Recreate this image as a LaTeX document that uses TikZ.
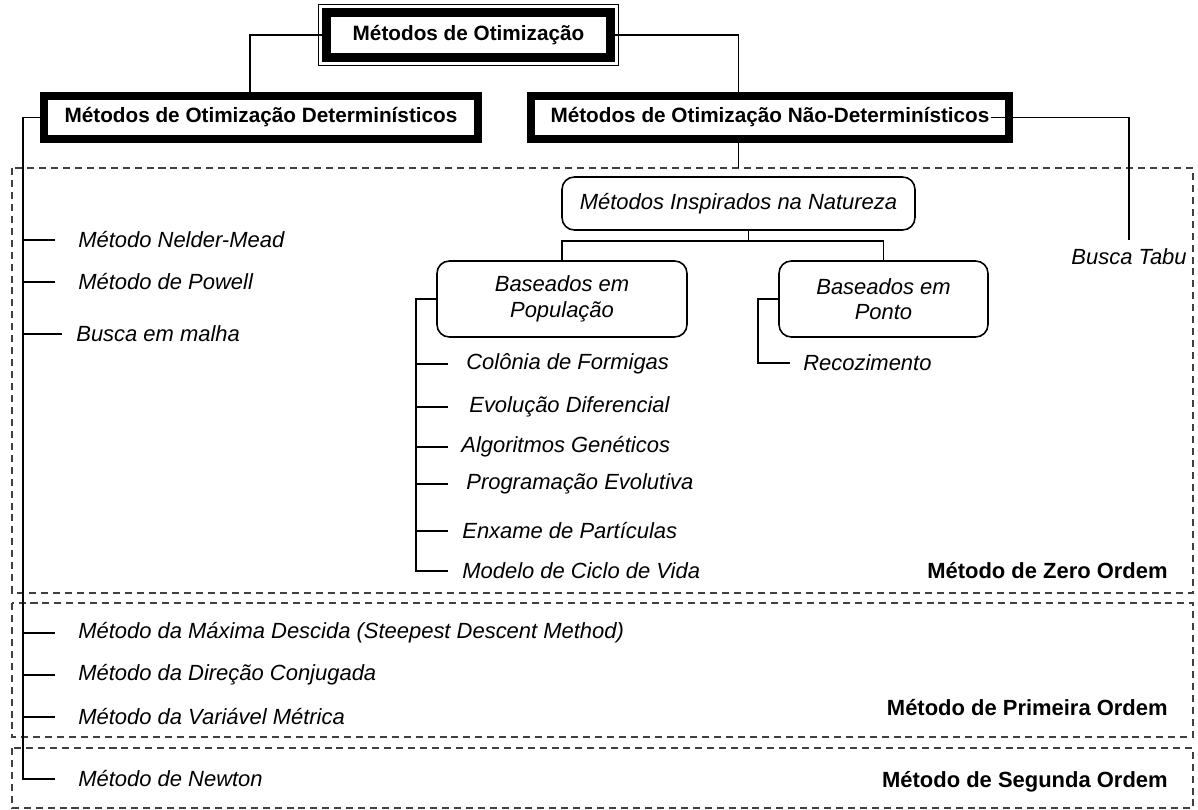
\documentclass[tikz,border=0pt]{standalone}
\usepackage{fontspec}
\setmainfont{Liberation Sans}
\newcommand\figfont{\fontsize{12.5}{14.5}\selectfont}
\newcommand\headfont{\fontsize{11.8}{14}\selectfont\bfseries}
\tikzset{
  headbox/.style={draw, line width=4.5pt, font=\headfont, inner sep=0pt},
  natbox/.style={draw, line width=0.9pt, rounded corners=7pt, font=\figfont\itshape, align=center, inner sep=0pt},
  method/.style={anchor=west, font=\figfont\itshape, inner sep=0pt},
  ordem/.style={anchor=east, font=\figfont\bfseries, inner sep=0pt},
  zone/.style={draw=black!75, line width=1.1pt, dash pattern=on 4pt off 2.8pt},
  link/.style={line width=0.85pt}
}
\begin{document}
\begin{tikzpicture}[x=0.02cm, y=-0.02cm]
  \useasboundingbox (0,0) rectangle (1198,810);
  % order zones
  \draw[zone] (12,168) coordinate (z0) rectangle (1193,593);
  \draw[zone] (12,603) rectangle (1193,737);
  \draw[zone] (12,748) rectangle (1193,808);
  \node[ordem] (zero) at (1168,571) {Método de Zero Ordem};
  \node[ordem] (first) at (1168,708) {Método de Primeira Ordem};
  \node[ordem] (second) at (1168,782) {Método de Segunda Ordem};
  % heads
  \node[headbox, line width=5pt, minimum width=5.68cm, minimum height=0.9cm] (top) at (468.5,35) {Métodos de Otimização};
  \draw[line width=0.6pt] ([shift={(-4,-4)}]top.north west) rectangle ([shift={(4,4)}]top.south east);
  \node[headbox, minimum width=8.68cm, minimum height=0.86cm] (det) at (261,117.5) {Métodos de Otimização Determinísticos};
  \node[headbox, minimum width=9.56cm, minimum height=0.86cm] (ndet) at (770,117.5) {Métodos de Otimização Não-Determinísticos};
  % nature inspired
  \node[natbox, minimum width=7.06cm, minimum height=1.06cm] (nat) at (738.5,203.5) {Métodos Inspirados na Natureza};
  \node[natbox, minimum width=5cm, minimum height=1.52cm] (pop) at (562,299) {Baseados em\\População};
  \node[natbox, minimum width=4.18cm, minimum height=1.52cm] (pto) at (883.5,299) {Baseados em\\Ponto};
  \node[method, anchor=east] (tabu) at (1187,257) {Busca Tabu};
  \draw[link] (top.west) -| ([xshift=-0.22cm]det.north);
  \draw[link] (top.east) -| (nat.north |- ndet.north);
  \draw[link] (nat.north |- ndet.south) -- (nat.north |- z0);
  \draw[link] ([xshift=-0.44cm]ndet.east) -| ([yshift=0.18cm]tabu.north);
  \draw[link] ([xshift=0.2cm]nat.south) -- ++(0,10) coordinate (nj);
  \draw[link] (pop.north) |- (nj) -| (pto.north);
  % deterministic methods
  \coordinate (dspine) at (23,0);
  \node[method] (nm) at (78,240) {Método Nelder-Mead};
  \node[method] (pw) at (78,282) {Método de Powell};
  \node[method] (bm) at (76,334) {Busca em malha};
  \node[method] (md) at (78,633) {Método da Máxima Descida (Steepest Descent Method)};
  \node[method] (dc) at (78,675) {Método da Direção Conjugada};
  \node[method] (vm) at (78,717) {Método da Variável Métrica};
  \node[method] (nt) at (78,779) {Método de Newton};
  \draw[link] (det.west) -| (dspine |- nt.west) -- ([xshift=-0.46cm]nt.west);
  \foreach \m in {nm,pw,md,dc,vm}
    \draw[link] (dspine |- \m.west) -- ([xshift=-0.46cm]\m.west);
  \draw[link] (dspine |- bm.west) -- ([xshift=-0.28cm]bm.west);
  % population based
  \coordinate (pspine) at (416,0);
  \node[method] (cf) at (466,364) {Colônia de Formigas};
  \node[method] (ed) at (469,407) {Evolução Diferencial};
  \node[method] (ag) at (461,447) {Algoritmos Genéticos};
  \node[method] (pe) at (466,484) {Programação Evolutiva};
  \node[method] (ep) at (462,531) {Enxame de Partículas};
  \node[method] (mv) at (462,571) {Modelo de Ciclo de Vida};
  \draw[link] (pop.west) -| (pspine |- mv.west) -- ++(32,0);
  \foreach \m in {cf,ed,ag,pe,ep}
    \draw[link] (pspine |- \m.west) -- ++(32,0);
  % point based
  \node[method] (rec) at (803,363) {Recozimento};
  \draw[link] (pto.west) -| ([xshift=-0.9cm]rec.west) -- ([xshift=-0.26cm]rec.west);
\end{tikzpicture}
\end{document}
